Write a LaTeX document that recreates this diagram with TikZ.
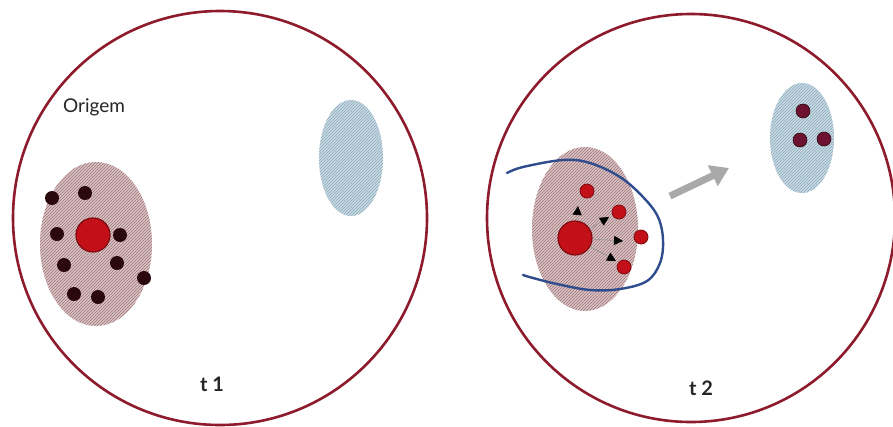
\documentclass[tikz,border=0pt]{standalone}
\usepackage{fontspec}
\setmainfont{Lato}
\usetikzlibrary{patterns,arrows.meta}
\definecolor{ring}{HTML}{8E1B2C}
\definecolor{pinkbg}{HTML}{D9C4C5}
\definecolor{pinkln}{HTML}{A07478}
\definecolor{bluebg}{HTML}{C8DAE3}
\definecolor{blueln}{HTML}{8CABBC}
\definecolor{darkdot}{HTML}{2A080E}
\definecolor{reddot}{HTML}{C20F18}
\definecolor{rededge}{HTML}{7E0A10}
\definecolor{maroondot}{HTML}{6E1232}
\definecolor{curveblue}{HTML}{2F4C8C}
\definecolor{greyarrow}{HTML}{A9A9A9}
\definecolor{txt}{HTML}{262626}
\tikzset{
  ringc/.style={draw=ring, line width=2.6pt},
  darkd/.style={circle, fill=darkdot, inner sep=0pt, minimum size=14pt},
  bigred/.style={circle, fill=reddot, draw=rededge, line width=1.2pt, inner sep=0pt, minimum size=34pt},
  smallred/.style={circle, fill=reddot, draw=rededge, line width=0.8pt, inner sep=0pt, minimum size=14pt},
  maroond/.style={circle, fill=maroondot, draw=darkdot, line width=0.6pt, inner sep=0pt, minimum size=14pt},
  thinarrow/.style={draw=gray!80, line width=0.7pt, -{Triangle[length=9pt,width=9pt,color=black]}},
  lbl/.style={text=txt, font=\fontsize{20}{22}\selectfont\bfseries, inner sep=0pt},
}
\begin{document}
\begin{tikzpicture}[x=1pt, y=-1pt]
\useasboundingbox (0,0) rectangle (893,426);
\fill[white] (0,0) rectangle (893,426);
% circles
\draw[ringc] (220,218) circle (207);
\draw[ringc] (691,218) circle (204);
% left region ellipses
\fill[pinkbg] (96,244) ellipse (56 and 82);
\fill[pattern=north east lines, pattern color=pinkln] (96,244) ellipse (56 and 82);
\fill[bluebg] (351,158) ellipse (32 and 58);
\fill[pattern=north east lines, pattern color=blueln] (351,158) ellipse (32 and 58);
% right region ellipses
\fill[pinkbg] (585,229) ellipse (53 and 82);
\fill[pattern=north east lines, pattern color=pinkln] (585,229) ellipse (53 and 82);
\fill[bluebg] (802,138) ellipse (32 and 55);
\fill[pattern=north east lines, pattern color=blueln] (802,138) ellipse (32 and 55);
% labels
\node[text=txt, inner sep=0pt, font=\fontsize{19}{21}\selectfont] (origem) at (94,107) {Origem};
\node[lbl] (t1) at (212,384) {t 1};
\node[lbl] (t2) at (701,388) {t 2};
% left dots
\node[bigred] (c1) at (93,235) {};
\node[darkd] (d1) at (52,198) {};
\node[darkd] (d2) at (85,193) {};
\node[darkd] (d3) at (57,234) {};
\node[darkd] (d4) at (120,235) {};
\node[darkd] (d5) at (64,265) {};
\node[darkd] (d6) at (117,263) {};
\node[darkd] (d7) at (144,278) {};
\node[darkd] (d8) at (74,294) {};
\node[darkd] (d9) at (98,297) {};
% blue curve
\draw[curveblue, line width=2.4pt, line cap=round] plot[smooth, tension=0.6] coordinates {
  (507,173) (523,167) (563,160) (590,163) (620,177) (643,197) (658,217) (663,240)
  (660,263) (647,281) (620,289) (590,290) (557,284) (533,278) (523,275)};
% right dots and arrows
\node[bigred] (c2) at (575,238) {};
\node[smallred] (r1) at (587,191) {};
\node[smallred] (r2) at (619,212) {};
\node[smallred] (r3) at (641,237) {};
\node[smallred] (r4) at (624,267) {};
\coordinate (h1) at (578,206);
\coordinate (h2) at (609,217);
\coordinate (h3) at (623,241);
\coordinate (h4) at (616,261);
\draw[thinarrow] (c2) -- (h1);
\draw[thinarrow] (c2) -- (h2);
\draw[thinarrow] (c2) -- (h3);
\draw[thinarrow] (c2) -- (h4);
% migrated dots
\node[maroond] (m1) at (803,111) {};
\node[maroond] (m2) at (800,140) {};
\node[maroond] (m3) at (824,139) {};
% grey migration arrow
\coordinate (ga) at (670,196);
\coordinate (gb) at (729,168);
\draw[greyarrow, line width=7pt, -{Triangle[length=18pt,width=22pt]}] (ga) -- (gb);
\end{tikzpicture}
\end{document}
